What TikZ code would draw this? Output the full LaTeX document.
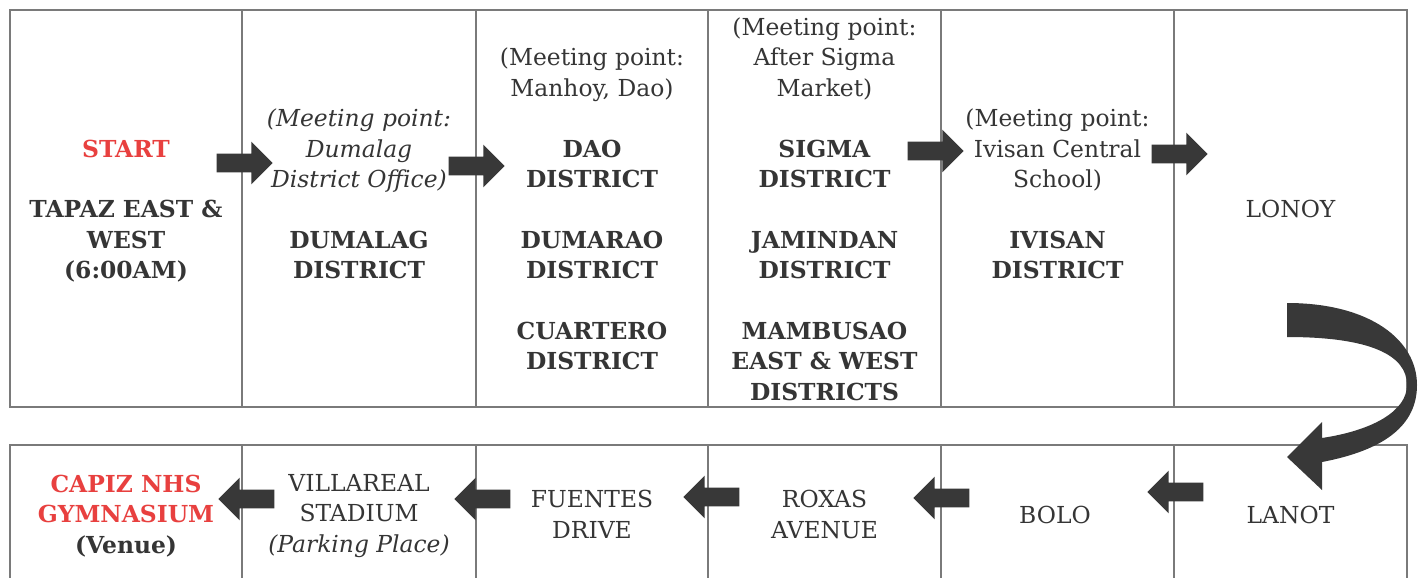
\documentclass[tikz,border=0pt]{standalone}
\usepackage{fontspec}
\setmainfont{DejaVu Serif}
\usetikzlibrary{shapes.arrows}

\definecolor{ink}{HTML}{353535}
\definecolor{startred}{HTML}{E8403F}
\definecolor{rulegray}{HTML}{7A7A7A}
\definecolor{arrowfill}{HTML}{383838}

\begin{document}
\begin{tikzpicture}[x=0.5pt,y=-0.5pt,
  cell/.style={align=center,anchor=base,inner sep=0pt,text=ink,font=\fontsize{11.7}{15.2}\selectfont},
  boldcell/.style={cell,font=\fontsize{11.7}{15.2}\selectfont\bfseries},
  fwd/.style={single arrow,fill=arrowfill,draw=none,inner xsep=0pt,inner ysep=4.5pt,
    text height=0pt,text depth=0pt,minimum height=28pt,single arrow head extend=6pt},
  bwd/.style={fwd,shape border rotate=180}]
\fill[white] (0,0) rectangle (1421,578);
\useasboundingbox (0,0) rectangle (1421,578);
% route table, top row
\draw[rulegray,line width=0.7pt] (10,10) rectangle (1407,407);
\foreach \cx in {242,476,708,941,1174}
  \draw[rulegray,line width=0.7pt] (\cx,10) -- (\cx,407);
% route table, bottom row (runs off the page)
\draw[rulegray,line width=0.7pt] (10,578) -- (10,445) -- (1407,445) -- (1407,578);
\foreach \cx in {242,476,708,941,1174}
  \draw[rulegray,line width=0.7pt] (\cx,445) -- (\cx,578);

% nodes sit on the baseline of their last line
\node[boldcell] (tapaz) at (126,278.6) {\textcolor{startred}{START}\\[15.2pt] TAPAZ EAST \&\\ WEST\\ (6:00AM)};
\node[cell] (dumalag) at (359,278.6) {\textit{(Meeting point:}\\ \textit{Dumalag}\\ \textit{District Office)}\\[15.2pt] \textbf{DUMALAG}\\ \textbf{DISTRICT}};
\node[cell] (dao) at (592,369.8) {(Meeting point:\\ Manhoy, Dao)\\[15.2pt] \textbf{DAO}\\ \textbf{DISTRICT}\\[15.2pt] \textbf{DUMARAO}\\ \textbf{DISTRICT}\\[15.2pt] \textbf{CUARTERO}\\ \textbf{DISTRICT}};
\node[cell] (sigma) at (824.5,400.2) {(Meeting point:\\ After Sigma\\ Market)\\[15.2pt] \textbf{SIGMA}\\ \textbf{DISTRICT}\\[15.2pt] \textbf{JAMINDAN}\\ \textbf{DISTRICT}\\[15.2pt] \textbf{MAMBUSAO}\\ \textbf{EAST \& WEST}\\ \textbf{DISTRICTS}};
\node[cell] (ivisan) at (1057.5,278.6) {(Meeting point:\\ Ivisan Central\\ School)\\[15.2pt] \textbf{IVISAN}\\ \textbf{DISTRICT}};
\node[cell] (lonoy) at (1290.5,217.8) {LONOY};

\node[boldcell] (capiz) at (126,553) {\textcolor{startred}{CAPIZ NHS}\\ \textcolor{startred}{GYMNASIUM}\\ (Venue)};
\node[cell] (villareal) at (359,552) {VILLAREAL\\ STADIUM\\ \textit{(Parking Place)}};
\node[cell] (fuentes) at (592,538) {FUENTES\\ DRIVE};
\node[cell] (roxas) at (824.5,538) {ROXAS\\ AVENUE};
\node[cell] (bolo) at (1055,523) {BOLO};
\node[cell] (lanot) at (1290.5,523) {LANOT};

% block arrows
\node[fwd] (a1) at (240,163) {};
\node[fwd] (a2) at (472,166) {};
\node[fwd] (a3) at (931,151) {};
\node[fwd] (a4) at (1175,154) {};
\node[bwd] (b1) at (251,499) {};
\node[bwd] (b2) at (487,499) {};
\node[bwd] (b3) at (716,497) {};
\node[bwd] (b4) at (946,498) {};
\node[bwd] (b5) at (1180,492) {};
% turn from LONOY down to LANOT
\fill[arrowfill] (1287,303) .. controls (1370,303) and (1417,340) .. (1417,385)
  .. controls (1417,425) and (1385,450) .. (1322,462) -- (1322,490) -- (1287,457)
  -- (1322,422) -- (1322,438) .. controls (1375,430) and (1407,410) .. (1407,385)
  .. controls (1407,355) and (1370,337) .. (1287,337) -- cycle;
\end{tikzpicture}
\end{document}
